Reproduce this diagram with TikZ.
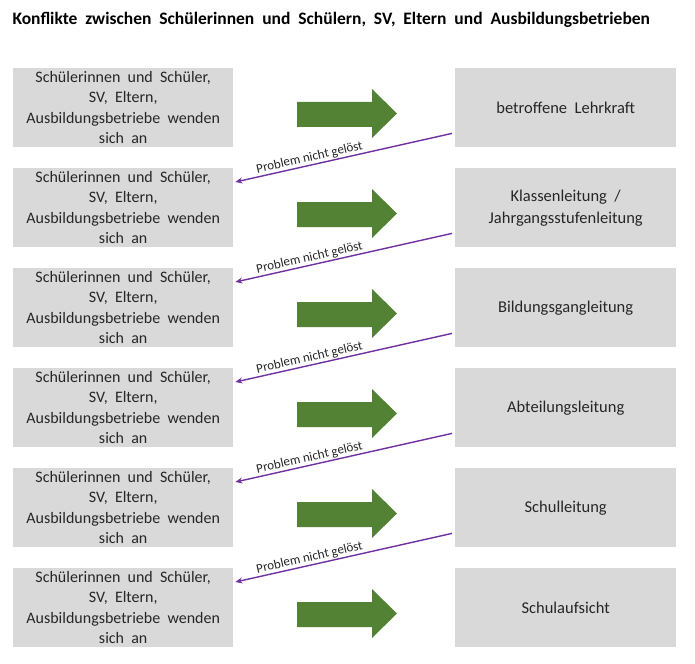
\documentclass[tikz,border=0pt]{standalone}
\usepackage{fontspec}
\setmainfont{Carlito}
\usetikzlibrary{arrows.meta,calc}
\definecolor{boxgray}{HTML}{D9D9D9}
\definecolor{arrgreen}{HTML}{548235}
\definecolor{violet2}{HTML}{7030A0}
\definecolor{txt}{HTML}{262626}
\begin{document}
\begin{tikzpicture}[x=1pt,y=-1pt,
  leftbox/.style={fill=boxgray,minimum width=220pt,minimum height=79pt,inner sep=0pt,align=center,text=txt,font=\fontsize{16}{20.5}\selectfont,anchor=north west},
  rightbox/.style={fill=boxgray,minimum width=221pt,minimum height=79pt,inner sep=0pt,align=center,text=txt,font=\fontsize{16.5}{22}\selectfont,anchor=north west},
  back/.style={draw=violet2,line width=1.4pt,-{Stealth[length=7pt,width=6pt]}},
  lbl/.style={font=\fontsize{13}{14}\selectfont,text=txt,sloped,above,pos=0.65,inner sep=1pt}]
\useasboundingbox (0,0) rectangle (695,663);
\node[anchor=west,font=\bfseries\fontsize{17.5}{19}\selectfont,text=black] (title) at (9,20) {Konflikte\ \ zwischen\ \ Schülerinnen\ \ und\ \ Schülern,\ \ SV,\ \ Eltern\ \ und\ \ Ausbildungsbetrieben};
\foreach \i in {1,...,6}{
  \pgfmathsetmacro{\yy}{68+100*(\i-1)}
  \node[leftbox] (l\i) at (13,\yy) {Schülerinnen\ \ und\ \ Schüler,\\SV,\ \ Eltern,\\Ausbildungsbetriebe\ \ wenden\\sich\ \ an};
  \fill[arrgreen] (297,\yy+34) -- (372,\yy+34) -- (372,\yy+21) -- (397,\yy+45.5) -- (372,\yy+70) -- (372,\yy+59) -- (297,\yy+59) -- cycle;
}
\node[rightbox] (r1) at (455,68) {betroffene\ \ Lehrkraft};
\node[rightbox] (r2) at (455,168) {Klassenleitung\ \ /\\Jahrgangsstufenleitung};
\node[rightbox] (r3) at (455,268) {Bildungsgangleitung};
\node[rightbox] (r4) at (455,368) {Abteilungsleitung};
\node[rightbox] (r5) at (455,468) {Schulleitung};
\node[rightbox] (r6) at (455,568) {Schulaufsicht};
\foreach \i/\j in {1/2,2/3,3/4,4/5,5/6}{
  \draw[back] ($(r\i.south west)+(-3,-14)$) -- node[lbl]{Problem nicht gelöst} ($(l\j.north east)+(2,14)$);
}
\end{tikzpicture}
\end{document}
